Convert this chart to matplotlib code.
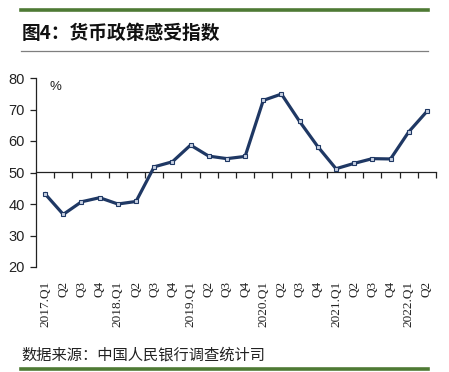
import matplotlib
matplotlib.use("Agg")
import matplotlib.pyplot as plt
from matplotlib.lines import Line2D

plt.rcParams['font.family'] = ['Noto Sans CJK SC', 'DejaVu Sans']

# data
years = ['2017', '2018', '2019', '2020', '2021', '2022']
quarters = ['Q1', 'Q2', 'Q3', 'Q4']
labels = []
for y in years:
    for q in quarters:
        labels.append(f'{y}.{q}' if q == 'Q1' else q)
labels = labels[:22]
values = [43.2, 36.7, 40.7, 42.0, 40.0, 40.8, 51.8, 53.4, 58.7, 55.2, 54.4, 55.1,
          72.9, 74.9, 66.2, 58.2, 51.2, 52.9, 54.4, 54.3, 62.9, 69.4]
yticks = [20, 30, 40, 50, 60, 70, 80]

green = '#4e7a34'
navy = '#1f3864'

W, H = 449, 372
fig = plt.figure(figsize=(W / 100, H / 100), dpi=100)

# header / footer rules
fig.add_artist(Line2D([21 / W, 428 / W], [1 - 10 / H, 1 - 10 / H], color=green, lw=2.6))
fig.add_artist(Line2D([21 / W, 428 / W], [1 - 51 / H, 1 - 51 / H], color='#7f7f7f', lw=0.9))
fig.add_artist(Line2D([21 / W, 428 / W], [1 - 369 / H, 1 - 369 / H], color=green, lw=2.6))
fig.text(22 / W, 1 - 33 / H, '图4：货币政策感受指数', fontsize=13.5, fontweight='bold',
         va='center', ha='left', color='#111111')
fig.text(21 / W, 1 - 355 / H, '数据来源：中国人民银行调查统计司', fontsize=11,
         va='center', ha='left', color='#222222')

ax = fig.add_axes([36 / W, 1 - 267 / H, 400 / W, 189 / H])
x = list(range(len(values)))
ax.plot(x, values, color=navy, lw=2.3, marker='s', markersize=3.2,
        markerfacecolor='#c9d2e3', markeredgecolor=navy, markeredgewidth=0.8,
        solid_joinstyle='round')

ax.set_xlim(-0.5, len(values) - 0.5)
ax.set_ylim(20, 80)
ax.set_yticks(yticks)
ax.tick_params(axis='y', direction='out', length=4, width=0.9, pad=4,
               labelsize=10.5, colors='#222222')
for lbl in ax.get_yticklabels():
    lbl.set_fontfamily(['Liberation Sans'])

for s in ['top', 'right', 'bottom']:
    ax.spines[s].set_visible(False)
ax.spines['left'].set_linewidth(0.9)
ax.spines['left'].set_color('#222222')

ax.set_xticks(x)
ax.set_xticklabels(labels, rotation=90, fontsize=9.5, family=['Liberation Serif'],
                   color='#222222')
ax.tick_params(axis='x', length=0, pad=10)

# horizontal axis line at 50, ticks between quarters pointing up
sec = ax.secondary_xaxis((50 - 20) / 60)
sec.set_xticks([i + 0.5 for i in x])
sec.set_xticklabels([])
sec.tick_params(axis='x', direction='in', length=4, width=0.9, colors='#222222')
for s in sec.spines.values():
    s.set_linewidth(0.9)
    s.set_color('#222222')

ax.text(0.035, 0.985, '%', transform=ax.transAxes, fontsize=9.5, va='top', ha='left',
        family=['Liberation Sans'], color='#222222')

fig.savefig('out.png', dpi=100)
